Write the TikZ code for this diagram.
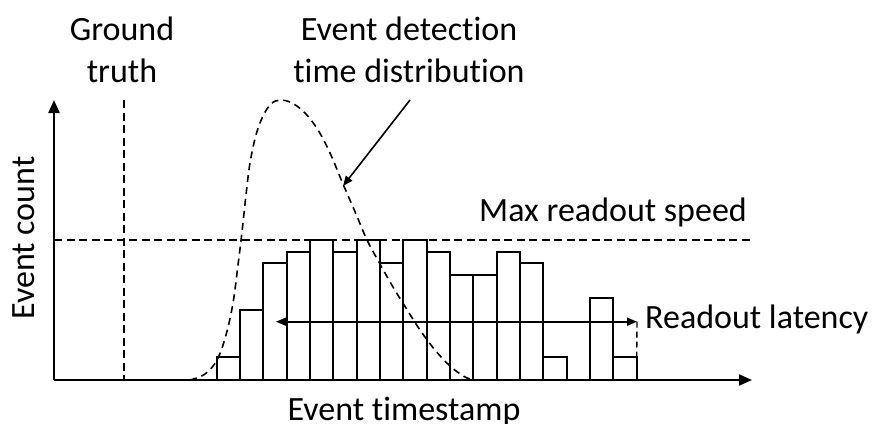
\documentclass[tikz,border=0pt]{standalone}
\usepackage{fontspec}
\setmainfont{Carlito}[RawFeature=-liga]
\usetikzlibrary{arrows.meta}
\tikzset{
  x=1pt, y=-1pt,
  lbl/.style={font=\fontsize{34}{42}\selectfont, inner sep=0pt, align=center},
  axisline/.style={line width=2.2pt, -{Triangle[length=13pt,width=11pt]}},
  barbox/.style={line width=2pt, fill=white},
  dashline/.style={line width=1.6pt, dash pattern=on 8pt off 4.5pt},
  thinarrow/.style={line width=1.6pt}
}
\begin{document}
\begin{tikzpicture}
\useasboundingbox (0,0) rectangle (877,423);
% coordinates
\coordinate (O) at (54,380);
\coordinate (ytip) at (54,100);
\coordinate (xtip) at (752,380);
\coordinate (gtop) at (124,100);
\coordinate (gbot) at (124,380);
\coordinate (mleft) at (54,240);
\coordinate (mright) at (752,240);
% reference lines
\draw[dashline] (gtop) -- (gbot);
\draw[dashline] (mleft) -- (mright);
% bars
\foreach \i/\h in {0/2,1/6,2/10,3/11,4/12,5/11,6/12,7/10,8/12,9/11,10/9,11/9,12/11,13/10,14/2,16/7,17/2}{
  \draw[barbox] ({216.667+23.333*\i},380) rectangle ({216.667+23.333*(\i+1)},{380-11.667*\h});
}
% distribution curve
\draw[dashline, dash pattern=on 7pt off 5pt] plot[smooth, tension=0.6] coordinates {
 (190,380) (205,374) (217,360) (226,335) (233,303) (238,265) (242,232) (246,195)
 (250,163) (256,135) (263,116) (271,104) (280,100) (292,103) (305,113) (318,130)
 (330,153) (343,184) (356,214) (367,240) (380,264) (393,287) (406,308) (420,330)
 (435,350) (450,366) (465,377) (475,380)};
% axes
\draw[axisline] (O) -- (ytip);
\draw[axisline] (O) -- (xtip);
% readout latency
\coordinate (rl) at (276,321.7);
\coordinate (rr) at (637,321.7);
\coordinate (rb) at (636.7,356.7);
\draw[thinarrow, {Triangle[length=10pt,width=8pt]}-{Triangle[length=10pt,width=8pt]}] (rl) -- (rr);
\draw[dashline, line width=1.4pt, dash pattern=on 6pt off 4pt] (rr) -- (rb);
% labels
\node[lbl, anchor=base] (gt) at (122,82) {Ground\\truth};
\node[lbl, anchor=base] (edt) at (409,82) {Event detection\\time distribution};
\node[lbl, anchor=base] (mrs) at (613,221) {Max readout speed};
\node[lbl, anchor=base west] (rlat) at (645,328) {Readout latency};
\node[lbl, anchor=base] (ets) at (404,420) {Event timestamp};
\node[lbl, rotate=90] (ec) at (24,238) {Event count};
% pointer
\coordinate (ps) at (410,100);
\coordinate (pe) at (343,186);
\draw[thinarrow, -{Triangle[length=10pt,width=8pt]}] (ps) -- (pe);
\end{tikzpicture}
\end{document}
